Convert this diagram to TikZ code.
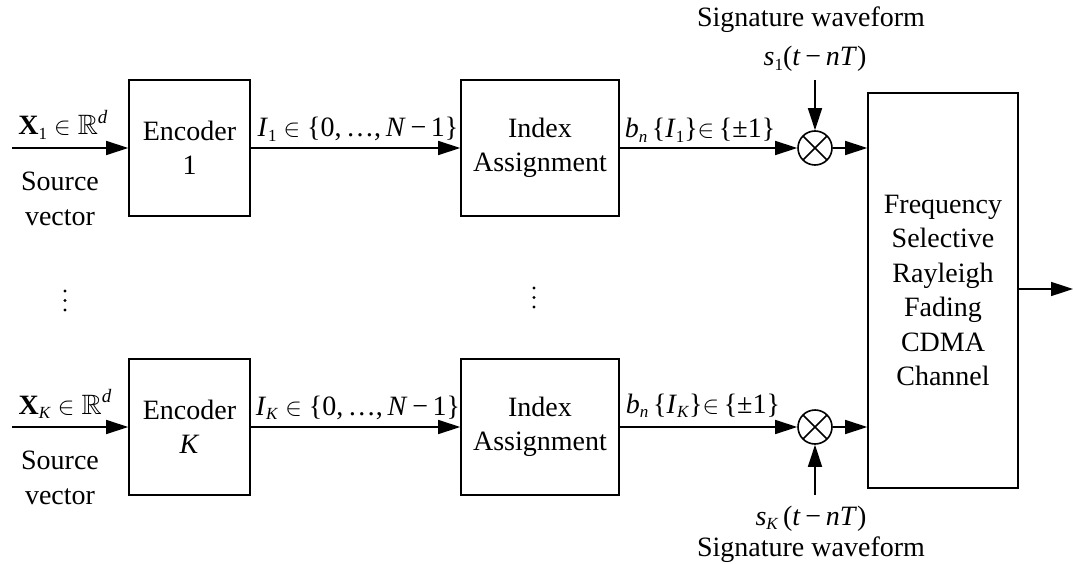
\documentclass[tikz,border=0pt]{standalone}
\usepackage{amssymb}
\usepackage{fontspec}
\setmainfont{Liberation Serif}
\usetikzlibrary{arrows.meta}
\newcommand\subs[1]{\raisebox{-0.32ex}{\fontsize{17}{17}\selectfont #1}}
\newcommand\sups[1]{\raisebox{0.9ex}{\fontsize{19}{19}\selectfont #1}}
\begin{document}
\begin{tikzpicture}[x=1pt,y=-1pt,
  every node/.style={font=\rmfamily\fontsize{28}{34.5}\selectfont, inner sep=0pt},
  blk/.style={draw, line width=1.6pt, align=center},
  conn/.style={line width=1.6pt, -{Triangle[length=22pt,width=14pt]}},
  mult/.style={draw, circle, line width=1.6pt, minimum size=34pt,
    path picture={\draw[line width=1.6pt] (path picture bounding box.north west) -- (path picture bounding box.south east)
      (path picture bounding box.north east) -- (path picture bounding box.south west);}},
  lbl/.style={anchor=base}]
\useasboundingbox (0,0) rectangle (1073,564);

% top row
\node[blk, minimum width=121pt, minimum height=136pt] (enc1) at (189.5,148) {Encoder\\1};
\node[blk, minimum width=158pt, minimum height=136pt] (idx1) at (540,148) {Index\\Assignment};
\node[mult] (m1) at (815,148) {};
% bottom row
\node[blk, minimum width=121pt, minimum height=136pt] (encK) at (189.5,427) {Encoder\\\textit{K}};
\node[blk, minimum width=158pt, minimum height=136pt] (idxK) at (540,427) {Index\\Assignment};
\node[mult] (mK) at (815,427) {};
% channel
\node[blk, minimum width=150pt, minimum height=395pt] (ch) at (943,290.5) {Frequency\\Selective\\Rayleigh\\Fading\\CDMA\\Channel};

\coordinate (in1) at (12,148);
\coordinate (inK) at (12,427);
\coordinate (s1top) at (815,80);
\coordinate (sKbot) at (815,495);
\coordinate (out) at (1073,289);

\draw[conn] (in1) -- (enc1.west);
\draw[conn] (enc1.east) -- (idx1.west);
\draw[conn] (idx1.east) -- (m1.west);
\draw[conn] (m1.east) -- (m1.east -| ch.west);
\draw[conn] (s1top) -- (m1.north);

\draw[conn] (inK) -- (encK.west);
\draw[conn] (encK.east) -- (idxK.west);
\draw[conn] (idxK.east) -- (mK.west);
\draw[conn] (mK.east) -- (mK.east -| ch.west);
\draw[conn] (sKbot) -- (mK.south);

\draw[conn] (ch.east |- out) -- (out);

% labels
\node[lbl] (x1) at (63,135) {\textbf{X}\subs{1} $\in$ $\mathbb{R}$\sups{\textit{d}}};
\node[align=center] (src1) at (60,199) {Source\\vector};
\node[lbl] (i1) at (358,137) {\textit{I}\subs{1} $\in$ \{0,\,…,\,\textit{N}\,−\,1\}};
\node[lbl] (b1) at (700,138) {\textit{b}\subs{\textit{n}}\,\{\textit{I}\subs{1}\}$\in$\,\{±1\}};
\node[lbl] (s1) at (815,66) {\textit{s}\subs{1}(\textit{t}\,−\,\textit{nT})};
\node[lbl] (sig1) at (811,27) {Signature waveform};

\node[lbl] (xK) at (65,414) {\textbf{X}\subs{\textit{K}} $\in$ $\mathbb{R}$\sups{\textit{d}}};
\node[align=center] (srcK) at (60,478) {Source\\vector};
\node[lbl] (iK) at (358,415) {\textit{I}\subs{\textit{K}} $\in$ \{0,\,…,\,\textit{N}\,−\,1\}};
\node[lbl] (bK) at (703,413) {\textit{b}\subs{\textit{n}}\,\{\textit{I}\subs{\textit{K}}\}$\in$\,\{±1\}};
\node[lbl] (sK) at (811,525) {\textit{s}\subs{\textit{K}}\,(\textit{t}\,−\,\textit{nT})};
\node[lbl] (sigK) at (811,556) {Signature waveform};

% vertical ellipses
\foreach \yy in {291,300.5,310} {\fill (65,\yy) circle (1.7pt);}
\foreach \yy in {288,297.5,307} {\fill (534,\yy) circle (1.7pt);}
\end{tikzpicture}
\end{document}
